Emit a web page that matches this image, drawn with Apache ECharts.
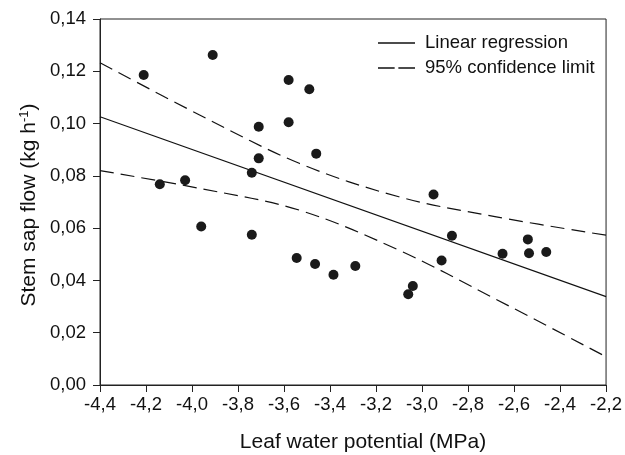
<!DOCTYPE html>
<html>
<head>
<meta charset="utf-8">
<script src="https://cdn.jsdelivr.net/npm/echarts@6/dist/echarts.min.js"></script>
<style>html,body{margin:0;padding:0;background:#fff}#c{width:625px;height:455px}</style>
</head>
<body>
<div id="c"></div>
<script>
// Observed points: leaf water potential (MPa) and stem sap flow (kg h-1)
const obsX = [-4.21,-3.91,-3.58,-3.49,-3.71,-3.58,-3.46,-3.71,-3.74,-4.14,-4.03,-3.96,-3.74,-3.545,-3.465,-3.385,-3.29,-3.04,-3.06,-2.915,-2.87,-2.95,-2.65,-2.54,-2.535,-2.46];
const obsY = [0.1186,0.1262,0.1167,0.1131,0.0988,0.1005,0.0885,0.0867,0.0812,0.0768,0.0783,0.0606,0.0575,0.0486,0.0463,0.0422,0.0455,0.0379,0.0347,0.0476,0.0571,0.0729,0.0502,0.0557,0.0504,0.0509];
// Linear regression end points
const regX = [-4.4,-2.2];
const regY = [0.1026,0.0338];
// 95% confidence limits
const ciX = [-4.4,-3.967,-3.534,-3.101,-2.683,-2.2];
const ciUpper = [0.1233,0.1033,0.0848,0.0720,0.0644,0.0573];
const ciLower = [0.0820,0.0752,0.0669,0.0516,0.0330,0.0108];
// Axis settings
const xTicks = {min:-4.4, max:-2.2, interval:0.2};
const yTicks = {min:0, max:0.14, interval:0.02};
const xTitle = 'Leaf water potential (MPa)';
const yTitle = 'Stem sap flow (kg h';
const legendNames = ['Linear regression','95% confidence limit'];

const zip = (a,b)=>a.map((v,i)=>[v,b[i]]);
const FONT = 'Liberation Sans, Arial, sans-serif';
const DASH = [14,7];
const chart = echarts.init(document.getElementById('c'), null, {renderer:'canvas'});
chart.setOption({
  animation:false,
  backgroundColor:'#fff',
  grid:{left:100, top:19, right:17, bottom:70, show:true, borderColor:'#222', borderWidth:1, backgroundColor:'transparent'},
  legend:{
    orient:'vertical', left:378, top:33.5, padding:0, itemWidth:37, itemHeight:1.3, itemGap:6,
    symbolKeepAspect:false,
    data:[
      {name:legendNames[0], icon:'path://M0,0H100V1H0Z'},
      {name:legendNames[1], icon:'path://M0,0H45V1H0ZM55,0H100V1H55Z'}
    ],
    itemStyle:{color:'#111', borderWidth:0},
    textStyle:{fontFamily:FONT, fontSize:18.5, color:'#111', padding:[0,0,0,5]}
  },
  xAxis:{
    type:'value', min:xTicks.min, max:xTicks.max, interval:xTicks.interval,
    axisLine:{show:true, onZero:false, lineStyle:{color:'#222', width:1}},
    axisTick:{show:true, inside:false, length:7, lineStyle:{color:'#222'}},
    splitLine:{show:false},
    axisLabel:{margin:10, fontFamily:FONT, fontSize:18.5, color:'#111',
      formatter:v=>(Math.round(v*10)/10).toFixed(1).replace('.',',')}
  },
  yAxis:{
    type:'value', min:yTicks.min, max:yTicks.max, interval:yTicks.interval,
    axisLine:{show:true, lineStyle:{color:'#222', width:1}},
    axisTick:{show:true, inside:false, length:7, lineStyle:{color:'#222'}},
    splitLine:{show:false},
    axisLabel:{margin:14, fontFamily:FONT, fontSize:18.5, color:'#111',
      formatter:v=>(Math.round(v*100)/100).toFixed(2).replace('.',',')}
  },
  graphic:[
    {type:'text', x:363, y:442, style:{text:xTitle, font:'21px '+FONT, fill:'#111', align:'center', verticalAlign:'middle'}},
    {type:'text', x:29, y:205, rotation:Math.PI/2,
      style:{text:'{a|'+yTitle+'}{s|-1}{a|)}', font:'21px '+FONT, fill:'#111', align:'center', verticalAlign:'middle',
        rich:{a:{fontSize:21, fontFamily:FONT, fill:'#111'}, s:{fontSize:13, fontFamily:FONT, fill:'#111', padding:[0,0,9,0]}}}}
  ],
  series:[
    {name:legendNames[0], type:'line', data:zip(regX,regY), symbol:'none', lineStyle:{color:'#111', width:1.1, type:'solid'}, itemStyle:{color:'#111'}, z:2},
    {name:legendNames[1], type:'line', data:zip(ciX,ciUpper), symbol:'none', smooth:0.35, lineStyle:{color:'#111', width:1.2, type:DASH}, itemStyle:{color:'#111'}, z:2},
    {name:legendNames[1], type:'line', data:zip(ciX,ciLower), symbol:'none', smooth:0.35, lineStyle:{color:'#111', width:1.2, type:DASH}, itemStyle:{color:'#111'}, z:2},
    {name:'Observed', type:'scatter', data:zip(obsX,obsY), symbol:'circle', symbolSize:10, itemStyle:{color:'#1a1a1a', opacity:1}, z:3}
  ]
});
</script>
</body>
</html>
